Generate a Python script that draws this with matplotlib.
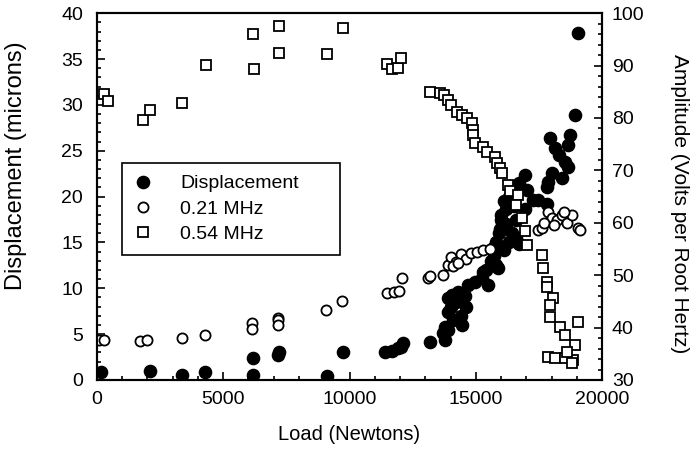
import matplotlib.pyplot as plt
from matplotlib.ticker import MultipleLocator

plt.rcParams['font.family'] = ['Liberation Sans', 'DejaVu Sans']

# Displacement (filled circles, left axis)
load_disp = [150, 2100, 3370, 4280, 6180, 6180, 7170, 7200, 9110, 9740,
             11400, 11700, 11900, 12040, 12120, 13190, 13780, 13780, 13700, 14450,
             14400, 13900, 14050, 14300, 14550, 13900, 14690, 14970, 15250, 15480,
             15290, 15880, 15700, 15800, 15950, 16000, 16100, 16300, 16430, 16600,
             16700, 16200, 16950, 16430, 16700, 16950, 17460, 17860, 17940, 18140,
             18020, 18530, 18650, 18650, 18730, 18930, 17820, 18300, 18400, 19050,
             15600, 15700, 15900, 16000, 16100, 16200, 16300, 16500, 16600, 15800,
             15400, 14000, 14200, 14600, 14100, 13900, 17030, 17270, 17820]
displacement = [0.9, 1.0, 0.5, 0.9, 0.5, 2.4, 2.7, 3.1, 0.4, 3.1,
                3.0, 3.2, 3.5, 3.6, 4.0, 4.1, 4.4, 5.8, 5.1, 6.0,
                7.0, 8.9, 9.3, 9.6, 9.2, 7.4, 10.4, 10.7, 11.1, 10.4,
                11.8, 12.2, 13.5, 15.0, 16.5, 17.4, 14.2, 15.0, 16.0, 15.5,
                14.8, 18.7, 18.7, 20.9, 21.5, 22.3, 19.6, 21.6, 26.4, 25.3,
                22.6, 23.8, 25.6, 23.2, 26.7, 28.9, 21.0, 24.5, 22.0, 37.8,
                13.0, 14.5, 16.0, 18.0, 19.5, 17.0, 20.0, 19.0, 17.5, 12.5,
                12.0, 8.0, 8.5, 8.0, 6.5, 5.5, 20.7, 19.6, 19.2]

# 0.21 MHz amplitude (open circles, right axis)
load_021 = [100, 300, 1700, 2000, 3370, 4280, 6140, 6140, 7170, 7170,
            7170, 9070, 9700, 11490, 11750, 11950, 12080, 13110, 13700, 13190,
            13900, 14000, 14200, 14400, 14600, 14100, 14300, 14800, 15050, 15300,
            15560, 17460, 17620, 17860, 18000, 18200, 18400, 18600, 18810, 19050,
            19130, 17700, 18100, 18500]
amp_021 = [37.6, 37.6, 37.4, 37.6, 38.0, 38.6, 40.9, 39.7, 41.8, 41.4,
           40.5, 43.4, 45.0, 46.6, 46.8, 47.0, 49.5, 49.5, 50.0, 49.8,
           52.0, 53.5, 52.5, 54.0, 53.0, 51.8, 52.3, 54.2, 54.5, 54.8,
           55.0, 58.6, 59.0, 62.0, 61.0, 60.5, 61.5, 60.0, 61.5, 59.0,
           58.6, 60.0, 59.5, 62.0]

# 0.54 MHz amplitude (open squares, right axis)
load_054 = [300, 436, 1820, 2100, 3370, 4320, 6180, 6220, 7200, 7200,
            9110, 9740, 11480, 11680, 11920, 12040, 13190, 13580, 13750, 13900,
            14000, 14260, 14450, 14650, 14850, 14890, 14890, 14970, 15290, 15440,
            15760, 15840, 15960, 16040, 16270, 16350, 16670, 16600, 16830, 16950,
            17030, 17620, 17660, 17820, 17820, 18060, 17940, 17940, 18330, 18530,
            18930, 19050, 17860, 18140, 18530, 18850, 18810, 18610]
amp_054 = [84.5, 83.2, 79.6, 81.5, 82.8, 90.1, 96.0, 89.3, 97.5, 92.4,
           92.2, 97.1, 90.3, 89.3, 89.5, 91.4, 84.9, 84.7, 84.3, 83.4,
           82.5, 81.1, 80.5, 80.0, 79.0, 77.8, 76.7, 75.2, 74.4, 73.5,
           72.5, 71.5, 70.4, 69.5, 67.2, 66.0, 65.3, 63.3, 60.9, 58.5,
           55.7, 53.8, 51.4, 48.7, 47.8, 45.6, 44.3, 42.0, 40.1, 38.6,
           36.7, 41.1, 34.4, 34.2, 34.2, 33.8, 33.2, 35.3]

fig, ax = plt.subplots(figsize=(6.97, 4.54), dpi=100)
fig.subplots_adjust(left=0.139, right=0.864, top=0.971, bottom=0.163)
ax2 = ax.twinx()

h1, = ax.plot(load_disp, displacement, 'o', color='black', markersize=8.8,
              linestyle='none', label='Displacement')
h2, = ax2.plot(load_021, amp_021, 'o', markerfacecolor='white', markeredgecolor='black',
               markeredgewidth=1.3, markersize=7.3, linestyle='none', label='0.21 MHz')
h3, = ax2.plot(load_054, amp_054, 's', markerfacecolor='white', markeredgecolor='black',
               markeredgewidth=1.3, markersize=7.8, linestyle='none', label='0.54 MHz')

ax.set_xlim(0, 20000)
ax.set_ylim(0, 40)
ax2.set_ylim(30, 100)
ax.set_xticks([0, 5000, 10000, 15000, 20000])
ax.xaxis.set_minor_locator(MultipleLocator(1000))
ax.yaxis.set_minor_locator(MultipleLocator(1))
ax2.yaxis.set_minor_locator(MultipleLocator(2))

ax.tick_params(axis='both', which='both', direction='in', labelsize=14, width=1.2)
ax.tick_params(axis='both', which='major', length=6)
ax.tick_params(axis='both', which='minor', length=3)
ax.tick_params(axis='x', which='both', pad=8)
ax.tick_params(axis='y', which='both', pad=10)
ax2.tick_params(axis='y', which='both', direction='in', labelsize=14, width=1.2, pad=7)
ax2.tick_params(axis='y', which='major', length=6)
ax2.tick_params(axis='y', which='minor', length=3)
for a in (ax, ax2):
    for s in a.spines.values():
        s.set_linewidth(1.5)

ax.set_xlabel('Load (Newtons)', fontsize=14.5, labelpad=12)
ax.set_ylabel('Displacement (microns)', fontsize=17)
ax.yaxis.set_label_coords(-0.138, 0.585)
ax2.set_ylabel('Amplitude (Volts per Root Hertz)', fontsize=15, rotation=270)
ax2.yaxis.set_label_coords(1.171, 0.48)

leg = ax.legend(handles=[h1, h2, h3], loc='upper left',
                bbox_to_anchor=(0.0495, 0.346, 0.432, 0.245), mode='expand',
                borderaxespad=0, fontsize=14, fancybox=False, edgecolor='black',
                framealpha=1, handlelength=1.0, handletextpad=1.4,
                borderpad=0.6, labelspacing=0.4)
leg.get_frame().set_linewidth(1.2)

plt.savefig('out.png')
